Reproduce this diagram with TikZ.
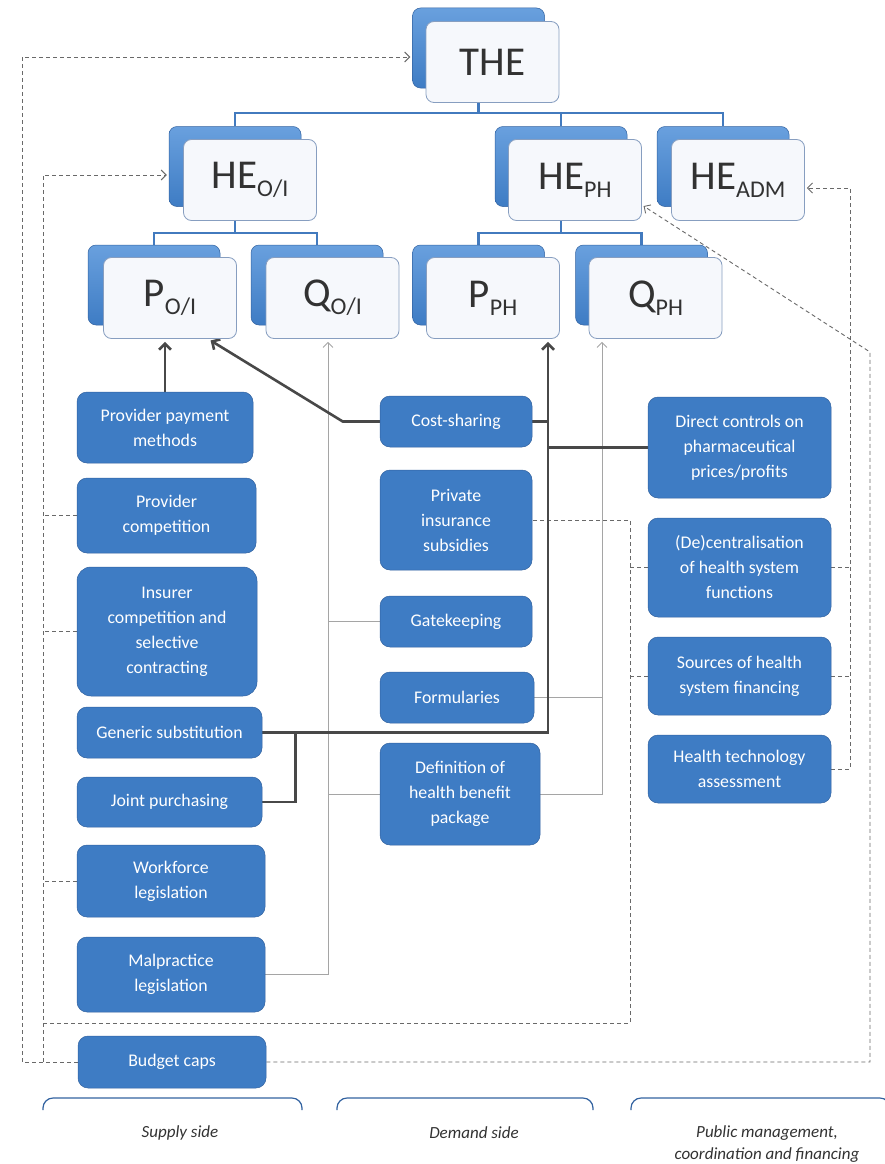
\documentclass[tikz,border=0pt]{standalone}
\usepackage{fontspec}
\setmainfont{Carlito}
\usetikzlibrary{arrows.meta,backgrounds}
\definecolor{polblue}{RGB}{62,124,196}
\definecolor{polborder}{RGB}{50,98,160}
\definecolor{backtop}{RGB}{105,160,222}
\definecolor{frontfill}{RGB}{246,248,252}
\definecolor{frontdraw}{RGB}{135,158,192}
\definecolor{treeblue}{RGB}{66,122,190}
\definecolor{darkarrow}{RGB}{72,72,72}
\definecolor{dashgray}{RGB}{105,105,105}
\definecolor{thingray}{RGB}{165,165,165}
\definecolor{textdark}{RGB}{50,50,50}
\newcommand{\boxfont}{\fontsize{17.8}{25}\selectfont}
\newcommand{\bigfont}{\fontsize{41}{42}\selectfont}
\newcommand{\mysub}[1]{\raisebox{-8pt}{\fontsize{24}{24}\selectfont #1}}
\begin{document}
\begin{tikzpicture}[x=1pt,y=-1pt,
  pol/.style={draw=polborder, line width=0.5pt, fill=polblue, rounded corners=10pt, text=white, font=\boxfont, align=center, inner sep=2pt},
  back/.style={draw=polborder, line width=0.5pt, top color=backtop, bottom color=polblue, rounded corners=8pt, minimum width=132pt, minimum height=80pt},
  front/.style={draw=frontdraw, line width=0.8pt, fill=frontfill, rounded corners=8pt, minimum width=133pt, minimum height=81pt, font=\bigfont, text=textdark, inner sep=0pt},
  tree/.style={draw=treeblue, line width=2.6pt},
  dconn/.style={draw=dashgray, line width=0.9pt, dash pattern=on 4pt off 3pt},
  dtip/.style={-{Straight Barb[length=5pt,width=10pt]}, shorten >=2pt},
  strong/.style={draw=darkarrow, line width=2.6pt},
  stip/.style={-{Straight Barb[length=6pt,width=12pt]}, shorten >=3pt},
  thinc/.style={draw=thingray, line width=0.8pt},
  ttip/.style={-{Straight Barb[length=5pt,width=10pt]}, shorten >=3pt},
  brk/.style={draw=polborder, line width=1.2pt, rounded corners=10pt},
  lab/.style={font=\fontsize{17}{22}\selectfont\itshape, text=textdark, align=center}
]
\useasboundingbox (0,0) rectangle (885,1164);

% ---- hierarchy boxes
\node[back] (theb) at (478.5,48) {};
\node[front] (the) at (492.5,62) {THE};
\node[back] (heoib) at (235,166.5) {};
\node[front] (heoi) at (250,180) {HE\mysub{O/I}};
\node[back] (hephb) at (561,166.5) {};
\node[front] (heph) at (575,180) {HE\mysub{PH}};
\node[back] (headmb) at (723,166.5) {};
\node[front] (headm) at (738,180) {HE\mysub{ADM}};
\node[back] (poib) at (154,285) {};
\node[front] (poi) at (170,298) {P\mysub{O/I}};
\node[back] (qoib) at (317,285) {};
\node[front] (qoi) at (332.5,298) {Q\mysub{O/I}};
\node[back] (pphb) at (478.5,285) {};
\node[front] (pph) at (493,298) {P\mysub{PH}};
\node[back] (qphb) at (641.5,285) {};
\node[front] (qph) at (655.5,298) {Q\mysub{PH}};

% ---- supply side
\node[pol, minimum width=176, minimum height=71] (ppm) at (165,427.5) {Provider payment\\methods};
\node[pol, minimum width=179, minimum height=75] (pcomp) at (166.5,515.5) {Provider\\competition};
\node[pol, minimum width=180, minimum height=129, rounded corners=14pt] (icomp) at (167,631.5) {Insurer\\competition and\\selective\\contracting};
\node[pol, minimum width=185, minimum height=51] (gen) at (169.5,732.5) {Generic substitution};
\node[pol, minimum width=185, minimum height=50] (jp) at (169.5,802) {Joint purchasing};
\node[pol, minimum width=188, minimum height=72] (wf) at (171,881) {Workforce\\legislation};
\node[pol, minimum width=188, minimum height=75] (mal) at (171,974.5) {Malpractice\\legislation};
\node[pol, minimum width=188, minimum height=52] (bud) at (172,1062) {Budget caps};

% ---- demand side
\node[pol, minimum width=152, minimum height=51] (cost) at (456,421.5) {Cost-sharing};
\node[pol, minimum width=152, minimum height=100] (pis) at (456,520) {Private\\insurance\\subsidies};
\node[pol, minimum width=152, minimum height=51] (gate) at (456,621.5) {Gatekeeping};
\node[pol, minimum width=154, minimum height=51] (form) at (457,697.5) {Formularies};
\node[pol, minimum width=160, minimum height=102] (def) at (460,794) {Definition of\\health benefit\\package};

% ---- public management
\node[pol, minimum width=183, minimum height=101] (dctrl) at (739.5,447.5) {Direct controls on\\pharmaceutical\\prices/profits};
\node[pol, minimum width=183, minimum height=99] (dec) at (739.5,567.5) {(De)centralisation\\of health system\\functions};
\node[pol, minimum width=183, minimum height=78] (src) at (739.5,676) {Sources of health\\system financing};
\node[pol, minimum width=183, minimum height=68] (hta) at (739.5,769) {Health technology\\assessment};

% ---- bottom brackets and labels
\draw[brk] (43,1110) -- (43,1098) -- (302,1098) -- (302,1110);
\draw[brk] (337,1110) -- (337,1098) -- (593,1098) -- (593,1110);
\draw[brk] (631,1110) -- (631,1098) -- (890,1098) -- (890,1110);
\node[lab] (lsup) at (180,1133) {Supply side};
\node[lab] (ldem) at (474,1133) {Demand side};
\node[lab] (lpub) at (767,1144) {Public management,\\coordination and financing};

\begin{scope}[on background layer]
% tree lines
\coordinate (tr1) at (0,113);
\coordinate (tr2) at (0,233);
\draw[tree] (theb.south) -- (theb.south |- tr1);
\draw[tree] (heoib.north) -- (heoib.north |- tr1) -- (headmb.north |- tr1) -- (headmb.north);
\draw[tree] (hephb.north) -- (hephb.north |- tr1);
\draw[tree] (heoib.south) -- (heoib.south |- tr2);
\draw[tree] (poib.north) -- (poib.north |- tr2) -- (qoib.north |- tr2) -- (qoib.north);
\draw[tree] (hephb.south) -- (hephb.south |- tr2);
\draw[tree] (pphb.north) -- (pphb.north |- tr2) -- (qphb.north |- tr2) -- (qphb.north);

% dashed connectors
\coordinate (xa) at (22,0);
\coordinate (xb) at (43,0);
\coordinate (xc) at (630,0);
\coordinate (xd) at (850,0);
\coordinate (xe) at (870,0);
\coordinate (yin) at (0,1023);
\coordinate (ydiag) at (0,352);
\coordinate (tTHE) at ([yshift=-9pt]theb.west);
\coordinate (tHEOI) at ([yshift=-8.5pt]heoib.west);
\coordinate (tADM) at ([yshift=-8pt]headm.east);
\coordinate (tPH) at ([yshift=-25pt]heph.east);
\draw[dconn,dtip] (bud.west) -- (xa |- bud.west) -- (xa |- tTHE) -- (tTHE);
\draw[dconn,dtip] (bud.west) -- (xb |- bud.west) -- (xb |- tHEOI) -- (tHEOI);
\draw[dconn] (xb |- yin) -- (xc |- yin) -- (xc |- pis.east) -- (pis.east);
\draw[dconn] (pcomp.west) -- (xb |- pcomp.west);
\draw[dconn] (icomp.west) -- (xb |- icomp.west);
\draw[dconn] (wf.west) -- (xb |- wf.west);
\draw[dconn] (dec.west) -- (xc |- dec.west);
\draw[dconn] (src.west) -- (xc |- src.west);
\draw[dconn,dtip] (hta.east) -- (xd |- hta.east) -- (xd |- tADM) -- (tADM);
\draw[dconn] (dec.east) -- (xd |- dec.east);
\draw[dconn] (src.east) -- (xd |- src.east);
\draw[dconn,dtip] (bud.east) -- (xe |- bud.east) -- (xe |- ydiag) -- (tPH);

% thin grey connectors (quantity)
\coordinate (xq1) at ([xshift=-4.5pt]qoi.south);
\coordinate (xq2) at ([xshift=-53.5pt]qph.south);
\draw[thinc,ttip] (mal.east) -- (xq1 |- mal.east) -- (xq1);
\draw[thinc] (gate.west) -- (xq1 |- gate.west);
\draw[thinc] (def.west) -- (xq1 |- def.west);
\draw[thinc,ttip] (def.east) -- (xq2 |- def.east) -- (xq2);
\draw[thinc] (form.east) -- (xq2 |- form.east);

% strong connectors (price)
\coordinate (tPOI) at ([xshift=38pt]poi.south);
\coordinate (xpph) at ([xshift=55pt]pph.south);
\draw[strong,stip] (ppm.north) -- (ppm.north |- poi.south);
\draw[strong,stip] (cost.west) -- ++(-37,0) -- (tPOI);
\draw[strong,stip] (gen.east) -- (xpph |- gen.east) -- (xpph);
\draw[strong] (jp.east) -- ++(33,0) coordinate (jc) -- (jc |- gen.east);
\draw[strong] (cost.east) -- (xpph |- cost.east);
\draw[strong] (dctrl.west) -- (xpph |- dctrl.west);
\end{scope}
\end{tikzpicture}
\end{document}
